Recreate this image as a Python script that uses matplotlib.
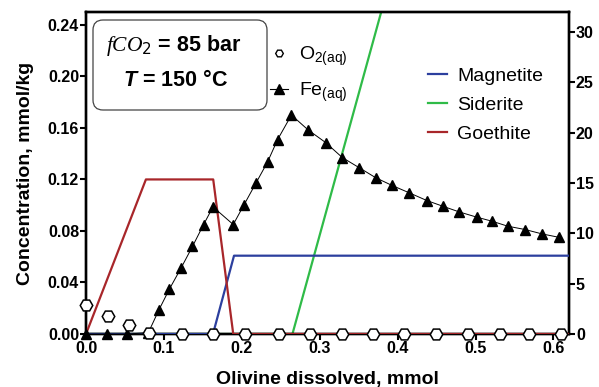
import matplotlib
matplotlib.use("Agg")
import matplotlib.pyplot as plt
from matplotlib.patches import FancyBboxPatch
from matplotlib.lines import Line2D

plt.rcParams["font.family"] = ["Liberation Sans", "DejaVu Sans"]
plt.rcParams["mathtext.fontset"] = "custom"
plt.rcParams["mathtext.it"] = "Liberation Serif:italic"
plt.rcParams["mathtext.sf"] = "Liberation Sans:italic:bold"
plt.rcParams["mathtext.default"] = "regular"

# O2(aq), left axis (mmol/kg)
o2_x = [0.0, 0.0286, 0.055, 0.081, 0.1226, 0.163, 0.204, 0.248, 0.287, 0.328,
        0.368, 0.408, 0.449, 0.490, 0.531, 0.569, 0.610]
o2_y = [0.0226, 0.014, 0.007, 0.0005, 0, 0, 0, 0, 0, 0, 0, 0, 0, 0, 0, 0, 0]

# Fe(aq), left axis (mmol/kg)
fe_x = [0.0, 0.0265, 0.053, 0.080, 0.0936, 0.107, 0.122, 0.1367, 0.151, 0.163,
        0.189, 0.203, 0.218, 0.233, 0.246, 0.2637, 0.285, 0.3077, 0.329, 0.351,
        0.372, 0.393, 0.415, 0.4376, 0.458, 0.479, 0.5017, 0.521, 0.5414,
        0.5637, 0.5855, 0.6068]
fe_y = [0.0, 0.0, 0.0, 0.001, 0.0187, 0.0348, 0.0512, 0.068, 0.085, 0.0987,
        0.085, 0.1005, 0.117, 0.1335, 0.151, 0.170, 0.1585, 0.1486, 0.137, 0.129,
        0.1213, 0.1153, 0.1096, 0.1036, 0.0992, 0.0948, 0.0907, 0.0876, 0.0837,
        0.0811, 0.0777, 0.0751]

# minerals
goe_x = [0.0, 0.0769, 0.1633, 0.189, 0.62]
goe_y = [0.0, 0.12, 0.12, 0.0, 0.0]
mag_x = [0.0, 0.163, 0.19, 0.62]
mag_y = [0.0, 0.0, 0.0608, 0.0608]
# siderite, right axis
sid_x = [0.0, 0.265, 0.38]
sid_y = [0.0, 0.0, 32.3]

BLUE = "#2c3f9e"
GREEN = "#2fbb48"
RED = "#a8262a"

fig = plt.figure(figsize=(5.99, 3.87), dpi=100)
ax = fig.add_axes([86 / 599, 1 - 334 / 387, (569 - 86) / 599, (334 - 12) / 387])
ax2 = ax.twinx()
ax.set_zorder(ax2.get_zorder() + 1)
ax.patch.set_visible(False)

ax2.plot(sid_x, sid_y, color=GREEN, lw=1.6, zorder=2)
ax.plot(mag_x, mag_y, color=BLUE, lw=1.6, zorder=3)
ax.plot(goe_x, goe_y, color=RED, lw=1.6, zorder=4)
ax.plot(fe_x, fe_y, color="black", lw=0.7, marker="^", ms=7.3, mfc="black",
        mec="black", zorder=5, clip_on=False)
ax.plot(o2_x, o2_y, ls="none", marker="H", ms=9, mfc="white", mec="black",
        mew=1.1, zorder=6, clip_on=False)

ax.set_xlim(0, 0.62)
ax.set_ylim(0, 0.25)
ax2.set_ylim(0, 32)
ax.set_xticks([0.0, 0.1, 0.2, 0.3, 0.4, 0.5, 0.6])
ax.set_xticklabels([f"{v:.1f}" for v in ax.get_xticks()])
ax.set_yticks([0.0, 0.04, 0.08, 0.12, 0.16, 0.20, 0.24])
ax.set_yticklabels([f"{v:.2f}" for v in ax.get_yticks()])
ax2.set_yticks([0, 5, 10, 15, 20, 25, 30])

for a in (ax, ax2):
    for s in a.spines.values():
        s.set_linewidth(1.7)
    a.tick_params(width=1.5, length=4, labelsize=11.5, pad=1)
    for lab in a.get_xticklabels() + a.get_yticklabels():
        lab.set_fontweight("bold")

ax.set_xlabel("Olivine dissolved, mmol", fontsize=14, fontweight="bold", labelpad=11)
ax.set_ylabel("Concentration, mmol/kg", fontsize=14, fontweight="bold", labelpad=10)

# condition box
box = FancyBboxPatch((0.93, 2.77), 1.74, 0.90, boxstyle="round,pad=0,rounding_size=0.1",
                     transform=fig.dpi_scale_trans, fc="white", ec="#444444", lw=0.9,
                     zorder=10)
fig.add_artist(box)
fig.text(174 / 599, 1 - 45 / 387, r"$\mathit{fCO_2}$ = 85 bar", fontsize=15.5,
         fontweight="bold", ha="center", va="center", zorder=11)
fig.text(175 / 599, 1 - 80 / 387, r"$\mathsf{T}$ = 150 °C", fontsize=15.5,
         fontweight="bold", ha="center", va="center", zorder=11)

# marker legend
h1 = [Line2D([], [], ls="none", marker="H", ms=5.5, mfc="white", mec="black"),
      Line2D([], [], color="black", lw=0.8, marker="^", ms=6.5, mfc="black")]
leg1 = ax.legend(h1, ["O$_{2(aq)}$", "Fe$_{(aq)}$"], loc="upper left",
                 bbox_to_anchor=(270 / 599, 1 - 45 / 387), bbox_transform=fig.transFigure,
                 frameon=False, fontsize=14, handlelength=0.9, handletextpad=0.6,
                 labelspacing=0.65, borderpad=0, borderaxespad=0)
ax.add_artist(leg1)

h2 = [Line2D([], [], color=c, lw=1.6) for c in (BLUE, GREEN, RED)]
ax.legend(h2, ["Magnetite", "Siderite", "Goethite"], loc="upper left",
          bbox_to_anchor=(428 / 599, 1 - 67 / 387), bbox_transform=fig.transFigure,
          frameon=False, fontsize=14, handlelength=1.0, handletextpad=0.5,
          labelspacing=0.6, borderpad=0, borderaxespad=0)

fig.savefig("out.png", dpi=100)
